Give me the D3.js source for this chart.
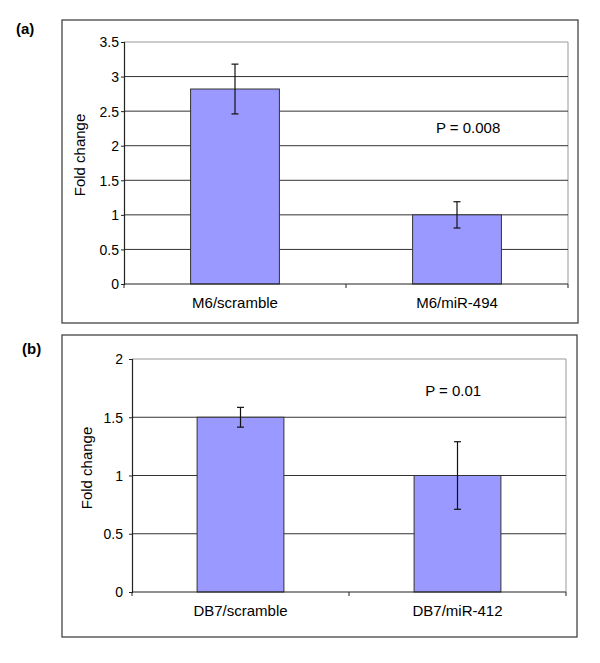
<!DOCTYPE html>
<html lang="en">
  <head>
    <meta charset="utf-8">
    <title>Fold change</title>
    <script src="https://d3js.org/d3.v7.min.js"></script>
    <style>
      body { margin: 0; background: #fff; }
      text { font-family: "Liberation Sans", Arial, Helvetica, sans-serif; fill: #000; }
    </style>
  </head>
  <body>
    <div id="chart"></div>
    <script>
      // panel (a)
      const catsA = ["M6/scramble", "M6/miR-494"];
      const valsA = [2.82, 1.0];
      const errsA = [0.36, 0.19];
      const ticksA = [0, 0.5, 1, 1.5, 2, 2.5, 3, 3.5];
      const pA = "P = 0.008";

      // panel (b)
      const catsB = ["DB7/scramble", "DB7/miR-412"];
      const valsB = [1.5, 1.0];
      const errsB = [0.085, 0.29];
      const ticksB = [0, 0.5, 1, 1.5, 2];
      const pB = "P = 0.01";

      let svg = d3.select("#chart")
          .append("svg")
          .attr("width", 600)
          .attr("height", 663);

      function panel(opts) {
          let g = svg.append("g");

          // outer frame
          g.append("rect")
              .attr("x", opts.box[0]).attr("y", opts.box[1])
              .attr("width", opts.box[2] - opts.box[0])
              .attr("height", opts.box[3] - opts.box[1])
              .attr("fill", "none")
              .attr("stroke", "#444")
              .attr("stroke-width", 1.3);

          g.append("text")
              .attr("x", opts.letter[0]).attr("y", opts.letter[1])
              .attr("font-size", 15).attr("font-weight", "bold")
              .text(opts.label);

          let [l, t, r, b] = opts.plot;

          let x = d3.scaleBand()
              .domain(opts.cats)
              .range([l, r]);

          let y = d3.scaleLinear()
              .domain([0, opts.max])
              .range([b, t]);

          // plot area right border in grey
          g.append("line")
              .attr("x1", r).attr("x2", r).attr("y1", t).attr("y2", b)
              .attr("stroke", "#999").attr("stroke-width", 1);

          // gridlines
          g.selectAll(".grid")
              .data(opts.ticks.filter(d => d > 0))
              .enter().append("line")
              .attr("x1", l).attr("x2", r)
              .attr("y1", d => y(d)).attr("y2", d => y(d))
              .attr("stroke", d => d === opts.max ? "#999" : "#333")
              .attr("stroke-width", 1);

          // bars
          let bw = x.bandwidth() * 0.4;
          g.selectAll(".bar")
              .data(opts.vals)
              .enter().append("rect")
              .attr("x", (d, i) => x(opts.cats[i]) + x.bandwidth() / 2 - bw / 2)
              .attr("y", d => y(d))
              .attr("width", bw)
              .attr("height", d => b - y(d))
              .attr("fill", "#9999ff")
              .attr("stroke", "#333")
              .attr("stroke-width", 1);

          // error bars
          let eg = g.selectAll(".err")
              .data(opts.vals)
              .enter().append("g")
              .attr("stroke", "#111")
              .attr("stroke-width", 1.2);
          eg.append("line")
              .attr("x1", (d, i) => x(opts.cats[i]) + x.bandwidth() / 2)
              .attr("x2", (d, i) => x(opts.cats[i]) + x.bandwidth() / 2)
              .attr("y1", (d, i) => y(d + opts.errs[i]))
              .attr("y2", (d, i) => y(d - opts.errs[i]));
          [1, -1].forEach(s => {
              eg.append("line")
                  .attr("x1", (d, i) => x(opts.cats[i]) + x.bandwidth() / 2 - 3.5)
                  .attr("x2", (d, i) => x(opts.cats[i]) + x.bandwidth() / 2 + 3.5)
                  .attr("y1", (d, i) => y(d + s * opts.errs[i]))
                  .attr("y2", (d, i) => y(d + s * opts.errs[i]));
          });

          // y axis
          let yAxis = d3.axisLeft(y)
              .tickValues(opts.ticks)
              .tickSize(3)
              .tickPadding(opts.pad)
              .tickFormat(d3.format("~g"));
          let ya = g.append("g")
              .attr("transform", `translate(${l}, 0)`)
              .call(yAxis);
          ya.select(".domain").attr("stroke", "#222").attr("stroke-width", 1.2);
          ya.selectAll(".tick line").attr("stroke", "#222");
          ya.selectAll(".tick text")
              .attr("font-size", 14)
              .attr("font-family", "Liberation Sans, Arial, sans-serif")
              .attr("fill", "#000")
              .attr("dy", "0.35em");

          // x axis
          let xa = g.append("g")
              .attr("transform", `translate(0, ${b})`);
          xa.append("line")
              .attr("x1", l).attr("x2", r)
              .attr("stroke", "#222").attr("stroke-width", 1.2);
          xa.selectAll(".xt")
              .data([l, x(opts.cats[1]), r])
              .enter().append("line")
              .attr("x1", d => d).attr("x2", d => d)
              .attr("y1", 0).attr("y2", 4)
              .attr("stroke", "#222");
          xa.selectAll(".xl")
              .data(opts.cats)
              .enter().append("text")
              .attr("x", d => x(d) + x.bandwidth() / 2)
              .attr("y", 24)
              .attr("text-anchor", "middle")
              .attr("font-size", 15)
              .text(d => d);

          // y label
          g.append("text")
              .attr("transform", `translate(${opts.ylab[0]}, ${opts.ylab[1]}) rotate(-90)`)
              .attr("text-anchor", "middle")
              .attr("font-size", 15)
              .text("Fold change");

          // p value
          g.append("text")
              .attr("x", l + (r - l) * opts.pPos[0])
              .attr("y", y(opts.pPos[1]))
              .attr("text-anchor", "middle")
              .attr("dy", "0.35em")
              .attr("font-size", 15)
              .text(opts.p);
      }

      panel({
          label: "(a)", letter: [16, 34],
          box: [62, 20, 578, 323],
          plot: [124, 42, 568, 284],
          cats: catsA, vals: valsA, errs: errsA,
          ticks: ticksA, max: 3.5, pad: 2,
          ylab: [85, 155],
          p: pA, pPos: [0.775, 2.26]
      });

      panel({
          label: "(b)", letter: [22, 354],
          box: [62, 335, 577, 637],
          plot: [132, 359, 566, 592],
          cats: catsB, vals: valsB, errs: errsB,
          ticks: ticksB, max: 2, pad: 6,
          ylab: [92, 468],
          p: pB, pPos: [0.74, 1.73]
      });
    </script>
  </body>
</html>
